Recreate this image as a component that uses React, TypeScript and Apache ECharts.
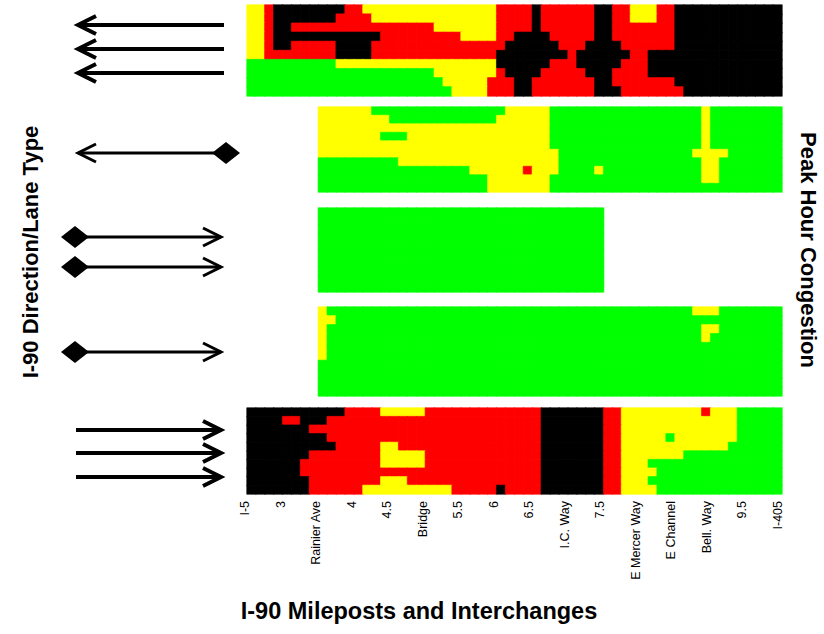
import React, { useEffect, useRef } from "react";
import * as echarts from "echarts";

// Tick labels along the I-90 corridor
const X_LABELS = [
  "I-5", "3", "Rainier Ave", "4", "4.5", "Bridge", "5.5", "6", "6.5",
  "I.C. Way", "7.5", "E Mercer Way", "E Channel", "Bell. Way", "9.5", "I-405",
];

// Congestion level codes: G = free flow, Y = moderate, R = heavy, K = severe, "." = no lane
const LEVELS: Record<string, number> = { G: 0, Y: 1, R: 2, K: 3 };
const LEVEL_COLORS = ["#00ff00", "#ffff00", "#ff0000", "#000000"];

// Each row: run-length encoded cells (60 columns, I-5 -> I-405)
const WB_GENERAL = [
  "2Y 1R 8K 2R 15Y 4R 1K 6R 2K 2R 3Y 2R 12K",
  "2Y 1R 7K 4R 14Y 4R 1K 6R 2K 2R 3Y 2R 12K",
  "2Y 1R 2K 16R 7Y 4R 1K 6R 2K 7R 12K",
  "2Y 1R 12K 9R 4Y 2R 4K 5R 2K 7R 12K",
  "2Y 1R 2K 5R 4K 15R 6K 3R 4K 6R 12K",
  "2Y 8R 4K 14R 8K 1R 6K 2R 15K",
  "10G 18Y 6K 3R 5K 3R 15K",
  "21G 7Y 1R 4K 5R 3K 4R 15K",
  "22G 5Y 3R 2K 7R 2K 7R 12K",
  "23G 4Y 3R 2K 7R 3K 7R 11K",
];
const WB_REVERSIBLE = [
  "8. 6Y 15G 5Y 17G 1Y 8G",
  "8. 8Y 12G 6Y 17G 1Y 8G",
  "8. 26Y 17G 1Y 8G",
  "8. 7Y 3G 16Y 17G 1Y 8G",
  "8. 26Y 17G 1Y 8G",
  "8. 27Y 15G 4Y 6G",
  "8. 9G 18Y 16G 2Y 7G",
  "8. 17G 6Y 1R 3Y 4G 1Y 11G 2Y 7G",
  "8. 19G 7Y 17G 2Y 7G",
  "8. 19G 7Y 26G",
];
const EB_REVERSIBLE = [
  "8. 32G 20.", "8. 32G 20.", "8. 32G 20.", "8. 32G 20.", "8. 32G 20.",
  "8. 32G 20.", "8. 32G 20.", "8. 32G 20.", "8. 32G 20.", "8. 32G 20.",
];
const EB_HOV = [
  "8. 1Y 41G 3Y 7G",
  "8. 2Y 50G",
  "8. 1Y 42G 2Y 7G",
  "8. 1Y 42G 1Y 8G",
  "8. 1Y 51G",
  "8. 1Y 51G",
  "8. 52G",
  "8. 52G",
  "8. 52G",
  "8. 52G",
];
const EB_GENERAL = [
  "11K 4R 5Y 13R 7K 2R 9Y 1R 3Y 5G",
  "4K 2R 3K 24R 7K 2R 13Y 5G",
  "7K 26R 7K 2R 13Y 5G",
  "9K 24R 7K 2R 5Y 1G 7Y 5G",
  "10K 5R 2Y 16R 7K 2R 12Y 6G",
  "7K 8R 5Y 13R 7K 2R 7Y 11G",
  "6K 9R 5Y 13R 7K 2R 3Y 15G",
  "6K 27R 7K 2R 4Y 14G",
  "7K 8R 3Y 15R 7K 2R 3Y 15G",
  "7K 6R 10Y 5R 1K 4R 7K 2R 4Y 14G",
];

const PANELS = [WB_GENERAL, WB_REVERSIBLE, EB_REVERSIBLE, EB_HOV, EB_GENERAL];
const N_COLS = 60;

// layout (pixels)
const PANEL_LAYOUT = [
  { top: 5, height: 91 },
  { top: 107, height: 85 },
  { top: 208, height: 84 },
  { top: 307, height: 89 },
  { top: 408, height: 86 },
];
const PANEL_LEFT = 247;
const PANEL_WIDTH = 535;

// lane-type symbols: direction (-1 west, +1 east), tail diamond, lane ys, thickness
const ARROWS = [
  { dir: -1, diamond: false, ys: [25, 49, 73], lw: 4 },
  { dir: -1, diamond: true, ys: [153], lw: 3 },
  { dir: 1, diamond: true, ys: [237, 267], lw: 3 },
  { dir: 1, diamond: true, ys: [352], lw: 3 },
  { dir: 1, diamond: false, ys: [430, 453, 477], lw: 4 },
];

function decodeRow(rle: string): string {
  return rle
    .trim()
    .split(/\s+/)
    .map((tok) => tok.slice(-1).repeat(parseInt(tok, 10)))
    .join("");
}

function buildArrows() {
  const els: any[] = [];
  ARROWS.forEach((a) => {
    a.ys.forEach((y) => {
      const left = a.dir < 0 ? 78 : 76;
      const right = a.dir < 0 ? 224 : 221;
      els.push({
        type: "line",
        shape: { x1: left, y1: y, x2: right, y2: y },
        style: { stroke: "#000", lineWidth: a.lw },
      });
      if (a.dir < 0) {
        els.push({
          type: "polyline",
          shape: { points: [[96, y - 9], [78, y], [96, y + 9]] },
          style: { stroke: "#000", lineWidth: a.lw, fill: null, lineJoin: "miter" },
        });
        if (a.diamond) {
          els.push({
            type: "polygon",
            shape: { points: [[212, y], [226, y - 11], [240, y], [226, y + 11]] },
            style: { fill: "#000" },
          });
        }
      } else {
        els.push({
          type: "polyline",
          shape: { points: [[203, y - 9], [221, y], [203, y + 9]] },
          style: { stroke: "#000", lineWidth: a.lw, fill: null, lineJoin: "miter" },
        });
        if (a.diamond) {
          els.push({
            type: "polygon",
            shape: { points: [[61, y], [75, y - 11], [89, y], [75, y + 11]] },
            style: { fill: "#000" },
          });
        }
      }
    });
  });
  return els;
}

export default function App() {
  const ref = useRef<HTMLDivElement>(null);

  useEffect(() => {
    if (!ref.current) return;
    const chart = echarts.init(ref.current, undefined, { renderer: "svg" });
    const font = "'Liberation Sans', Arial, Helvetica, sans-serif";

    const grid: any[] = [];
    const xAxis: any[] = [];
    const yAxis: any[] = [];
    const series: any[] = [];
    const cols = Array.from({ length: N_COLS }, (_, i) => String(i));

    PANELS.forEach((rows, pi) => {
      const lay = PANEL_LAYOUT[pi];
      grid.push({ left: PANEL_LEFT, width: PANEL_WIDTH, top: lay.top, height: lay.height });
      xAxis.push({ type: "category", gridIndex: pi, data: cols, show: false });
      yAxis.push({
        type: "category",
        gridIndex: pi,
        data: rows.map((_, r) => String(r)),
        inverse: true,
        show: false,
      });
      const data: any[] = [];
      rows.forEach((rle, r) => {
        const row = decodeRow(rle);
        for (let c = 0; c < N_COLS; c++) {
          const ch = row[c];
          if (ch === undefined || ch === ".") continue;
          const lv = LEVELS[ch];
          const color = LEVEL_COLORS[lv];
          data.push({
            value: [c, r, lv],
            itemStyle: { borderColor: color, borderWidth: 0.6 },
          });
        }
      });
      series.push({
        type: "heatmap",
        xAxisIndex: pi,
        yAxisIndex: pi,
        data,
        emphasis: { disabled: true },
      });
    });

    // label axis
    const li = PANELS.length;
    grid.push({ left: 245, width: 533, top: 408, height: 86 });
    xAxis.push({
      type: "value",
      gridIndex: li,
      min: 0,
      max: X_LABELS.length - 1,
      interval: 1,
      axisLine: { show: false },
      axisTick: { show: false },
      splitLine: { show: false },
      axisLabel: {
        rotate: 90,
        margin: 7,
        fontSize: 12.5,
        color: "#000",
        fontFamily: font,
        formatter: (v: number) => X_LABELS[Math.round(v)] ?? "",
      },
    });
    yAxis.push({ type: "value", gridIndex: li, show: false });

    chart.setOption({
      animation: false,
      backgroundColor: "#fff",
      grid,
      xAxis,
      yAxis,
      visualMap: {
        type: "piecewise",
        show: false,
        dimension: 2,
        seriesIndex: PANELS.map((_, i) => i),
        pieces: LEVEL_COLORS.map((color, lv) => ({ value: lv, color })),
      },
      series,
      graphic: [
        ...buildArrows(),
        {
          type: "text",
          x: 30,
          y: 252,
          rotation: Math.PI / 2,
          style: {
            text: "I-90 Direction/Lane Type",
            fontSize: 22,
            fontWeight: "bold",
            fontFamily: font,
            fill: "#000",
            align: "center",
            verticalAlign: "middle",
          },
        },
        {
          type: "text",
          x: 808,
          y: 250,
          rotation: -Math.PI / 2,
          style: {
            text: "Peak Hour Congestion",
            fontSize: 22,
            fontWeight: "bold",
            fontFamily: font,
            fill: "#000",
            align: "center",
            verticalAlign: "middle",
          },
        },
        {
          type: "text",
          x: 419,
          y: 611,
          style: {
            text: "I-90 Mileposts and Interchanges",
            fontSize: 23.5,
            fontWeight: "bold",
            fontFamily: font,
            fill: "#000",
            align: "center",
            verticalAlign: "middle",
          },
        },
      ],
    });
    return () => chart.dispose();
  }, []);

  return (
    <div
      ref={ref}
      style={{ position: "fixed", left: 0, top: 0, width: 824, height: 634, background: "#fff" }}
    />
  );
}
